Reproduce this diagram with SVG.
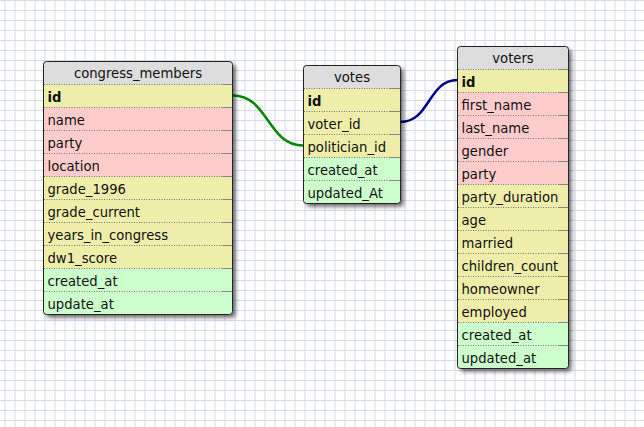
<svg xmlns="http://www.w3.org/2000/svg" width="644" height="427" viewBox="0 0 644 427">
<style>
.t{font-family:"DejaVu Sans",Verdana,sans-serif;font-size:13.2px;fill:#111}
.h{text-anchor:middle}
.b{font-weight:bold}
.y{fill:#eeeeaa}
.p{fill:#ffcccc}
.g{fill:#ccffcc}
.hd{fill:#dddddd}
.sep line{stroke:#777;stroke-width:1;stroke-dasharray:1 1.5}
.sep line.s{stroke:#888;stroke-dasharray:none}
.frame{fill:none;stroke:#222;stroke-width:1}
.conn{fill:none;stroke-width:2.5}
</style>
<defs>
<pattern id="grid" patternUnits="userSpaceOnUse" width="10" height="10">
<rect width="10" height="10" fill="#ffffff"/>
<rect x="4.5" y="0" width="1" height="10" fill="#d8d8ef"/>
<rect x="0" y="0" width="10" height="1" fill="#d8d8ef"/>
</pattern>
<filter id="sh" x="-20%" y="-20%" width="140%" height="140%">
<feDropShadow dx="3" dy="3" stdDeviation="2.2" flood-color="#000" flood-opacity="0.6"/>
</filter>
<clipPath id="c1"><rect x="43.5" y="61.5" width="189" height="253" rx="3"/></clipPath>
<clipPath id="c2"><rect x="303.5" y="65.5" width="97" height="138" rx="3"/></clipPath>
<clipPath id="c3"><rect x="457.5" y="46.5" width="111" height="322" rx="3"/></clipPath>
</defs>
<rect width="644" height="427" fill="url(#grid)"/>

<g id="connectors">
<path class="conn" stroke="#008800" d="M233,95.5 C268,95.5 268,145.5 303,145.5"/>
<path class="conn" stroke="#000088" d="M400.5,122 C430,122 428,80 457.5,80"/>
</g>

<g id="congress_members">
<rect x="43.5" y="61.5" width="189" height="253" rx="3" class="hd" filter="url(#sh)"/>
<g clip-path="url(#c1)">
<rect x="43.5" y="84.5" width="189" height="23" class="y"/>
<rect x="43.5" y="107.5" width="189" height="69" class="p"/>
<rect x="43.5" y="176.5" width="189" height="92" class="y"/>
<rect x="43.5" y="268.5" width="189" height="46" class="g"/>
</g>
<g class="sep">
<line x1="44" y1="84.5" x2="222" y2="84.5"/><line class="s" x1="222" y1="84.5" x2="232" y2="84.5"/>
<line x1="44" y1="107.5" x2="222" y2="107.5"/><line class="s" x1="222" y1="107.5" x2="232" y2="107.5"/>
<line x1="44" y1="130.5" x2="222" y2="130.5"/><line class="s" x1="222" y1="130.5" x2="232" y2="130.5"/>
<line x1="44" y1="153.5" x2="222" y2="153.5"/><line class="s" x1="222" y1="153.5" x2="232" y2="153.5"/>
<line x1="44" y1="176.5" x2="222" y2="176.5"/><line class="s" x1="222" y1="176.5" x2="232" y2="176.5"/>
<line x1="44" y1="199.5" x2="222" y2="199.5"/><line class="s" x1="222" y1="199.5" x2="232" y2="199.5"/>
<line x1="44" y1="222.5" x2="222" y2="222.5"/><line class="s" x1="222" y1="222.5" x2="232" y2="222.5"/>
<line x1="44" y1="245.5" x2="222" y2="245.5"/><line class="s" x1="222" y1="245.5" x2="232" y2="245.5"/>
<line x1="44" y1="268.5" x2="222" y2="268.5"/><line class="s" x1="222" y1="268.5" x2="232" y2="268.5"/>
<line x1="44" y1="291.5" x2="222" y2="291.5"/><line class="s" x1="222" y1="291.5" x2="232" y2="291.5"/>
</g>
<rect x="43.5" y="61.5" width="189" height="253" rx="3" class="frame"/>
<text class="t h" x="138" y="78">congress_members</text>
<text class="t b" x="47.5" y="101.5">id</text>
<text class="t" x="47.5" y="124.5">name</text>
<text class="t" x="47.5" y="147.5">party</text>
<text class="t" x="47.5" y="170.5">location</text>
<text class="t" x="47.5" y="193.5">grade_1996</text>
<text class="t" x="47.5" y="216.5">grade_current</text>
<text class="t" x="47.5" y="239.5">years_in_congress</text>
<text class="t" x="47.5" y="262.5">dw1_score</text>
<text class="t" x="47.5" y="285.5">created_at</text>
<text class="t" x="47.5" y="308.5">update_at</text>
</g>

<g id="votes">
<rect x="303.5" y="65.5" width="97" height="138" rx="3" class="hd" filter="url(#sh)"/>
<g clip-path="url(#c2)">
<rect x="303.5" y="88.5" width="97" height="69" class="y"/>
<rect x="303.5" y="157.5" width="97" height="46" class="g"/>
</g>
<g class="sep">
<line x1="304" y1="88.5" x2="390" y2="88.5"/><line class="s" x1="390" y1="88.5" x2="400" y2="88.5"/>
<line x1="304" y1="111.5" x2="390" y2="111.5"/><line class="s" x1="390" y1="111.5" x2="400" y2="111.5"/>
<line x1="304" y1="134.5" x2="390" y2="134.5"/><line class="s" x1="390" y1="134.5" x2="400" y2="134.5"/>
<line x1="304" y1="157.5" x2="390" y2="157.5"/><line class="s" x1="390" y1="157.5" x2="400" y2="157.5"/>
<line x1="304" y1="180.5" x2="390" y2="180.5"/><line class="s" x1="390" y1="180.5" x2="400" y2="180.5"/>
</g>
<rect x="303.5" y="65.5" width="97" height="138" rx="3" class="frame"/>
<text class="t h" x="352" y="82">votes</text>
<text class="t b" x="307.5" y="105.5">id</text>
<text class="t" x="307.5" y="128.5">voter_id</text>
<text class="t" x="307.5" y="151.5">politician_id</text>
<text class="t" x="307.5" y="174.5">created_at</text>
<text class="t" x="307.5" y="197.5">updated_At</text>
</g>

<g id="voters">
<rect x="457.5" y="46.5" width="111" height="322" rx="3" class="hd" filter="url(#sh)"/>
<g clip-path="url(#c3)">
<rect x="457.5" y="69.5" width="111" height="23" class="y"/>
<rect x="457.5" y="92.5" width="111" height="92" class="p"/>
<rect x="457.5" y="184.5" width="111" height="138" class="y"/>
<rect x="457.5" y="322.5" width="111" height="46" class="g"/>
</g>
<g class="sep">
<line x1="458" y1="69.5" x2="558" y2="69.5"/><line class="s" x1="558" y1="69.5" x2="568" y2="69.5"/>
<line x1="458" y1="92.5" x2="558" y2="92.5"/><line class="s" x1="558" y1="92.5" x2="568" y2="92.5"/>
<line x1="458" y1="115.5" x2="558" y2="115.5"/><line class="s" x1="558" y1="115.5" x2="568" y2="115.5"/>
<line x1="458" y1="138.5" x2="558" y2="138.5"/><line class="s" x1="558" y1="138.5" x2="568" y2="138.5"/>
<line x1="458" y1="161.5" x2="558" y2="161.5"/><line class="s" x1="558" y1="161.5" x2="568" y2="161.5"/>
<line x1="458" y1="184.5" x2="558" y2="184.5"/><line class="s" x1="558" y1="184.5" x2="568" y2="184.5"/>
<line x1="458" y1="207.5" x2="558" y2="207.5"/><line class="s" x1="558" y1="207.5" x2="568" y2="207.5"/>
<line x1="458" y1="230.5" x2="558" y2="230.5"/><line class="s" x1="558" y1="230.5" x2="568" y2="230.5"/>
<line x1="458" y1="253.5" x2="558" y2="253.5"/><line class="s" x1="558" y1="253.5" x2="568" y2="253.5"/>
<line x1="458" y1="276.5" x2="558" y2="276.5"/><line class="s" x1="558" y1="276.5" x2="568" y2="276.5"/>
<line x1="458" y1="299.5" x2="558" y2="299.5"/><line class="s" x1="558" y1="299.5" x2="568" y2="299.5"/>
<line x1="458" y1="322.5" x2="558" y2="322.5"/><line class="s" x1="558" y1="322.5" x2="568" y2="322.5"/>
<line x1="458" y1="345.5" x2="558" y2="345.5"/><line class="s" x1="558" y1="345.5" x2="568" y2="345.5"/>
</g>
<rect x="457.5" y="46.5" width="111" height="322" rx="3" class="frame"/>
<text class="t h" x="513" y="63">voters</text>
<text class="t b" x="461.5" y="86.5">id</text>
<text class="t" x="461.5" y="109.5">first_name</text>
<text class="t" x="461.5" y="132.5">last_name</text>
<text class="t" x="461.5" y="155.5">gender</text>
<text class="t" x="461.5" y="178.5">party</text>
<text class="t" x="461.5" y="201.5">party_duration</text>
<text class="t" x="461.5" y="224.5">age</text>
<text class="t" x="461.5" y="247.5">married</text>
<text class="t" x="461.5" y="270.5">children_count</text>
<text class="t" x="461.5" y="293.5">homeowner</text>
<text class="t" x="461.5" y="316.5">employed</text>
<text class="t" x="461.5" y="339.5">created_at</text>
<text class="t" x="461.5" y="362.5">updated_at</text>
</g>
</svg>
